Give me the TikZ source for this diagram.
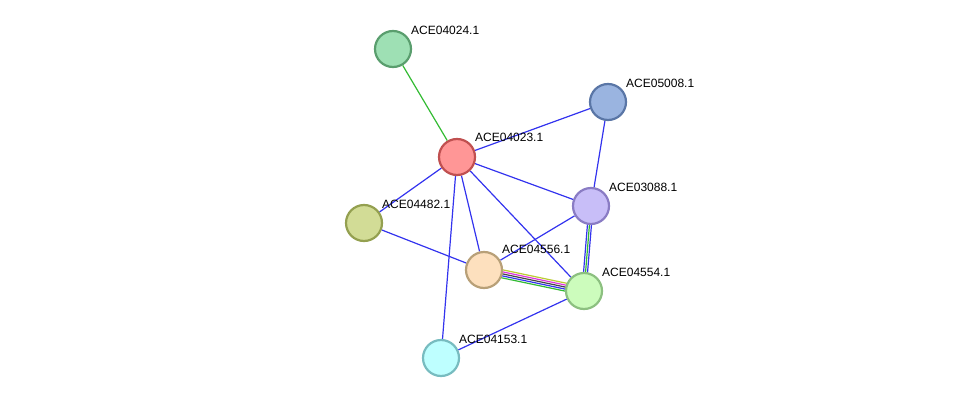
\documentclass[tikz,border=0pt]{standalone}
\usepackage{fontspec}
\setmainfont{Liberation Sans}
\usetikzlibrary{backgrounds}
\usetikzlibrary{calc}
\definecolor{edgeblue}{HTML}{3333EE}
\definecolor{edgegreen}{HTML}{33BB33}
\definecolor{edgeyellow}{HTML}{BBCC33}
\definecolor{edgepink}{HTML}{DD33DD}
\definecolor{edgegray}{HTML}{444444}
\definecolor{dka}{HTML}{5A9E6E}\definecolor{lta}{HTML}{9EE0B4}
\definecolor{dkb}{HTML}{5A76A6}\definecolor{ltb}{HTML}{9AB4E0}
\definecolor{dkc}{HTML}{C05050}\definecolor{ltc}{HTML}{FF9696}
\definecolor{dkd}{HTML}{8A7CC4}\definecolor{ltd}{HTML}{C8BEF8}
\definecolor{dke}{HTML}{94A050}\definecolor{lte}{HTML}{D2DC96}
\definecolor{dkf}{HTML}{B8A078}\definecolor{ltf}{HTML}{FDE0BE}
\definecolor{dkg}{HTML}{8CC080}\definecolor{ltg}{HTML}{CCFCBC}
\definecolor{dkh}{HTML}{78BCC0}\definecolor{lth}{HTML}{BEFFFF}
\tikzset{
  prot/.style={circle,minimum size=36pt,inner sep=0pt,
    line width=2.2pt,draw=dk#1,fill=lt#1},
  lbl/.style={anchor=south west,font=\fontsize{12}{12}\selectfont,inner sep=0pt},
  lnk/.style={line width=1.2pt,draw=edgeblue}
}
\newcommand{\bnd}[4]{% from, to, offset, colour
  \draw[lnk,draw=#4] ($(#1)!#3!90:(#2)$) -- ($(#2)!#3!-90:(#1)$);}
\begin{document}
\begin{tikzpicture}[x=1pt,y=-1pt]
    \useasboundingbox (0,0) rectangle (976,404);

    \node[prot=a] (n4024) at (393,49) {};
    \node[prot=b] (n5008) at (608,102) {};
    \node[prot=c] (n4023) at (457,157) {};
    \node[prot=d] (n3088) at (591,206) {};
    \node[prot=e] (n4482) at (364,223) {};
    \node[prot=f] (n4556) at (484,270) {};
    \node[prot=g] (n4554) at (584,291) {};
    \node[prot=h] (n4153) at (441,358) {};

    \node[lbl] at ($(n4024)+(18,-14)$) {ACE04024.1};
    \node[lbl] at ($(n5008)+(18,-14)$) {ACE05008.1};
    \node[lbl] at ($(n4023)+(18,-15)$) {ACE04023.1};
    \node[lbl] at ($(n3088)+(18,-14)$) {ACE03088.1};
    \node[lbl] at ($(n4482)+(18,-14)$) {ACE04482.1};
    \node[lbl] at ($(n4556)+(18,-16)$) {ACE04556.1};
    \node[lbl] at ($(n4554)+(18,-14)$) {ACE04554.1};
    \node[lbl] at ($(n4153)+(18,-14)$) {ACE04153.1};

    \begin{scope}[on background layer]
      \draw[lnk,draw=edgegreen] (n4024) -- (n4023);
      \draw[lnk] (n4023) -- (n5008);
      \draw[lnk] (n4023) -- (n3088);
      \draw[lnk] (n4023) -- (n4482);
      \draw[lnk] (n4023) -- (n4556);
      \draw[lnk] (n4023) -- (n4554);
      \draw[lnk] (n4023) -- (n4153);
      \draw[lnk] (n5008) -- (n3088);
      \draw[lnk] (n3088) -- (n4556);
      \draw[lnk] (n4482) -- (n4556);
      \draw[lnk] (n4554) -- (n4153);
      % multi-evidence links
      \bnd{n3088}{n4554}{-2pt}{edgeblue}
      \bnd{n3088}{n4554}{0pt}{edgegreen}
      \bnd{n3088}{n4554}{2pt}{edgeblue}
      \bnd{n4556}{n4554}{4pt}{edgeyellow}
      \bnd{n4556}{n4554}{2pt}{edgepink}
      \bnd{n4556}{n4554}{0pt}{edgegray}
      \bnd{n4556}{n4554}{-2pt}{edgeblue}
      \bnd{n4556}{n4554}{-4pt}{edgegreen}
    \end{scope}
\end{tikzpicture}
\end{document}
